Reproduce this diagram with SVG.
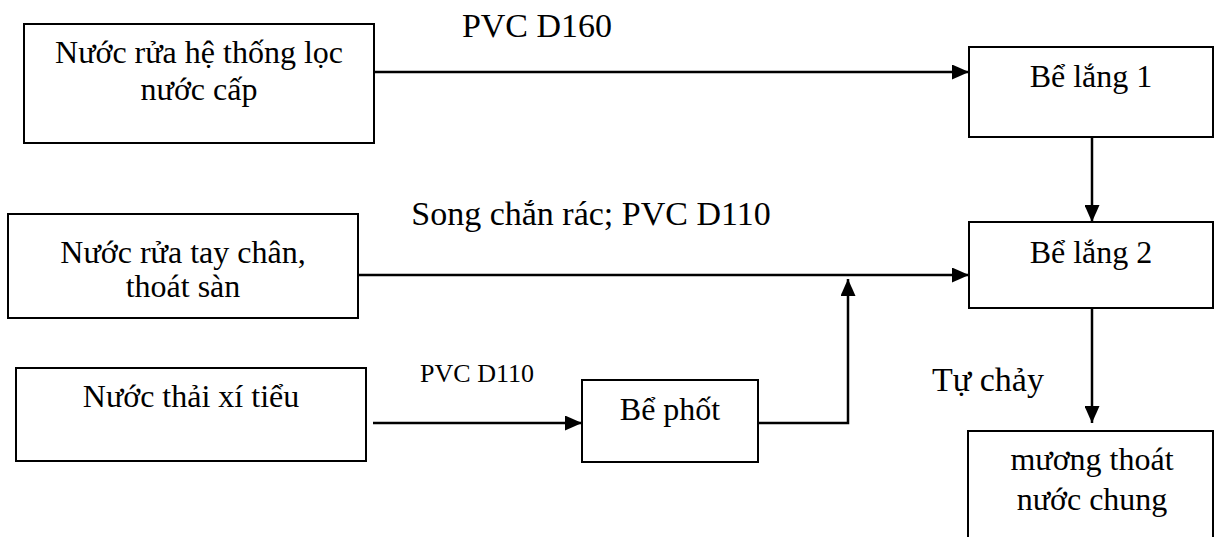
<svg xmlns="http://www.w3.org/2000/svg" width="1214" height="537" viewBox="0 0 1214 537">
<style>
.box{fill:#fff;stroke:#000;stroke-width:2}
text{font-family:'Liberation Serif','DejaVu Serif',serif;fill:#000}
.t{font-size:32px;text-anchor:middle}
.lbl{font-size:34px}
.sm{font-size:26px}
.c{fill:none;stroke:#000;stroke-width:2.5}
</style>
<defs>
<marker id="ah" markerWidth="17" markerHeight="15" refX="17" refY="7.5" orient="auto" markerUnits="userSpaceOnUse">
<path d="M0,0 L17,7.5 L0,15 Z" fill="#000"/>
</marker>
</defs>
<rect width="1214" height="537" fill="#fff"/>
<g id="connectors">
<path class="c" d="M374,72 H969" marker-end="url(#ah)"/>
<path class="c" d="M1092,137 V222" marker-end="url(#ah)"/>
<path class="c" d="M358,275 H969" marker-end="url(#ah)"/>
<path class="c" d="M373,423 H582" marker-end="url(#ah)"/>
<path class="c" d="M758,423 H848 V279" marker-end="url(#ah)"/>
<path class="c" d="M1092,308 V423" marker-end="url(#ah)"/>
</g>
<g id="labels" font-family="Liberation Serif, DejaVu Serif, serif">
<text class="lbl" x="537" y="37" text-anchor="middle">PVC D160</text>
<text class="lbl" x="591" y="225" text-anchor="middle">Song chắn rác; PVC D110</text>
<text class="lbl sm" x="477" y="382" text-anchor="middle">PVC D110</text>
<text class="lbl" x="932" y="391">Tự chảy</text>
</g>
<g id="n1">
<rect class="box" x="24" y="24" width="350" height="119"/>
<text class="t" x="199" y="63">Nước rửa hệ thống lọc</text>
<text class="t" x="199" y="100">nước cấp</text>
</g>
<g id="n2">
<rect class="box" x="8" y="214" width="350" height="104"/>
<text class="t" x="183" y="263">Nước rửa tay chân,</text>
<text class="t" x="183" y="297">thoát sàn</text>
</g>
<g id="n3">
<rect class="box" x="16" y="368" width="350" height="93"/>
<text class="t" x="191" y="407">Nước thải xí tiểu</text>
</g>
<g id="n4">
<rect class="box" x="582" y="380" width="176" height="82"/>
<text class="t" x="670" y="420">Bể phốt</text>
</g>
<g id="n5">
<rect class="box" x="969" y="47" width="244" height="90"/>
<text class="t" x="1091" y="87">Bể lắng 1</text>
</g>
<g id="n6">
<rect class="box" x="969" y="222" width="244" height="86"/>
<text class="t" x="1091" y="263">Bể lắng 2</text>
</g>
<g id="n7">
<rect class="box" x="968" y="431" width="245" height="130"/>
<text class="t" x="1092" y="470">mương thoát</text>
<text class="t" x="1092" y="510">nước chung</text>
</g>
</svg>
